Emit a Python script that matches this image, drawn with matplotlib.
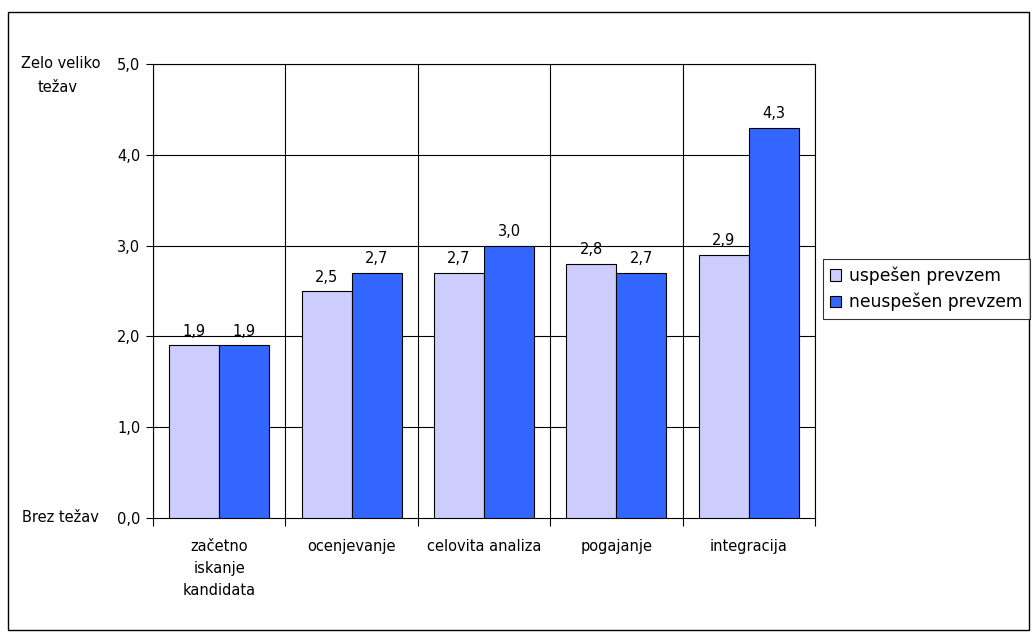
import matplotlib
matplotlib.use("Agg")
import matplotlib.pyplot as plt
from matplotlib.patches import Rectangle
import numpy as np

categories = ["začetno\niskanje\nkandidata", "ocenjevanje", "celovita analiza", "pogajanje", "integracija"]
series_names = ["uspešen prevzem", "neuspešen prevzem"]
uspesen = [1.9, 2.5, 2.7, 2.8, 2.9]
neuspesen = [1.9, 2.7, 3.0, 2.7, 4.3]
yticks = [0.0, 1.0, 2.0, 3.0, 4.0, 5.0]
colors = ["#CCCCFF", "#3366FF"]

plt.rcParams['font.family'] = ['DejaVu Sans']
fs = 10.5

W, H = 1034, 641
fig = plt.figure(figsize=(W/100, H/100), dpi=100)
fig.patches.append(Rectangle((8/W, 1 - 630/H), (1029-8)/W, (630-12)/H, transform=fig.transFigure,
                             fill=False, edgecolor="black", linewidth=1.0))

ax = fig.add_axes([153/W, 1 - 518/H, (815-153)/W, (518-64)/H])
n = len(categories)
x = np.arange(n)
bw = 0.378
ax.bar(x - bw/2, uspesen, bw, color=colors[0], edgecolor="black", linewidth=0.8, label=series_names[0], zorder=3)
ax.bar(x + bw/2, neuspesen, bw, color=colors[1], edgecolor="black", linewidth=0.8, label=series_names[1], zorder=3)

for xi, v in zip(x - bw/2, uspesen):
    ax.text(xi, v + 0.07, f"{v:.1f}".replace(".", ","), ha="center", va="bottom", fontsize=fs)
for xi, v in zip(x + bw/2, neuspesen):
    ax.text(xi, v + 0.07, f"{v:.1f}".replace(".", ","), ha="center", va="bottom", fontsize=fs)

ax.set_xlim(-0.5, n - 0.5)
ax.set_ylim(0, 5)
ax.set_yticks(yticks)
ax.set_yticklabels([f"{t:.1f}".replace(".", ",") for t in yticks], fontsize=fs)
ax.set_xticks(np.arange(n + 1) - 0.5)
ax.set_xticklabels([])
ax.set_xticks(x, minor=True)
ax.set_xticklabels(categories, minor=True, fontsize=fs)
ax.tick_params(axis="x", which="minor", length=0, pad=15)
ax.tick_params(axis="x", which="major", length=6, direction="out", color="black")
ax.tick_params(axis="y", length=5, direction="out", pad=4)
for t in ax.get_xticklabels(minor=True):
    t.set_linespacing(1.57)

for yv in yticks[1:]:
    ax.axhline(yv, color="black", linewidth=0.8, zorder=1)
for xv in np.arange(n + 1) - 0.5:
    ax.axvline(xv, color="black", linewidth=0.8, zorder=1)
for s in ax.spines.values():
    s.set_linewidth(0.8)

fig.text(61/W, 1 - 63/H, "Zelo veliko", ha="center", va="center", fontsize=fs)
fig.text(58/W, 1 - 87/H, "težav", ha="center", va="center", fontsize=fs)
fig.text(60/W, 1 - 517/H, "Brez težav", ha="center", va="center", fontsize=fs)

leg = fig.legend(loc="center left", bbox_to_anchor=(823/W, 1 - 289/H), frameon=True, fancybox=False,
                 edgecolor="black", fontsize=12.3, handlelength=0.65, handleheight=0.65, handletextpad=0.45,
                 borderpad=0.42, labelspacing=0.45, borderaxespad=0)
leg.get_frame().set_linewidth(0.8)

fig.savefig("out.png", dpi=100)
